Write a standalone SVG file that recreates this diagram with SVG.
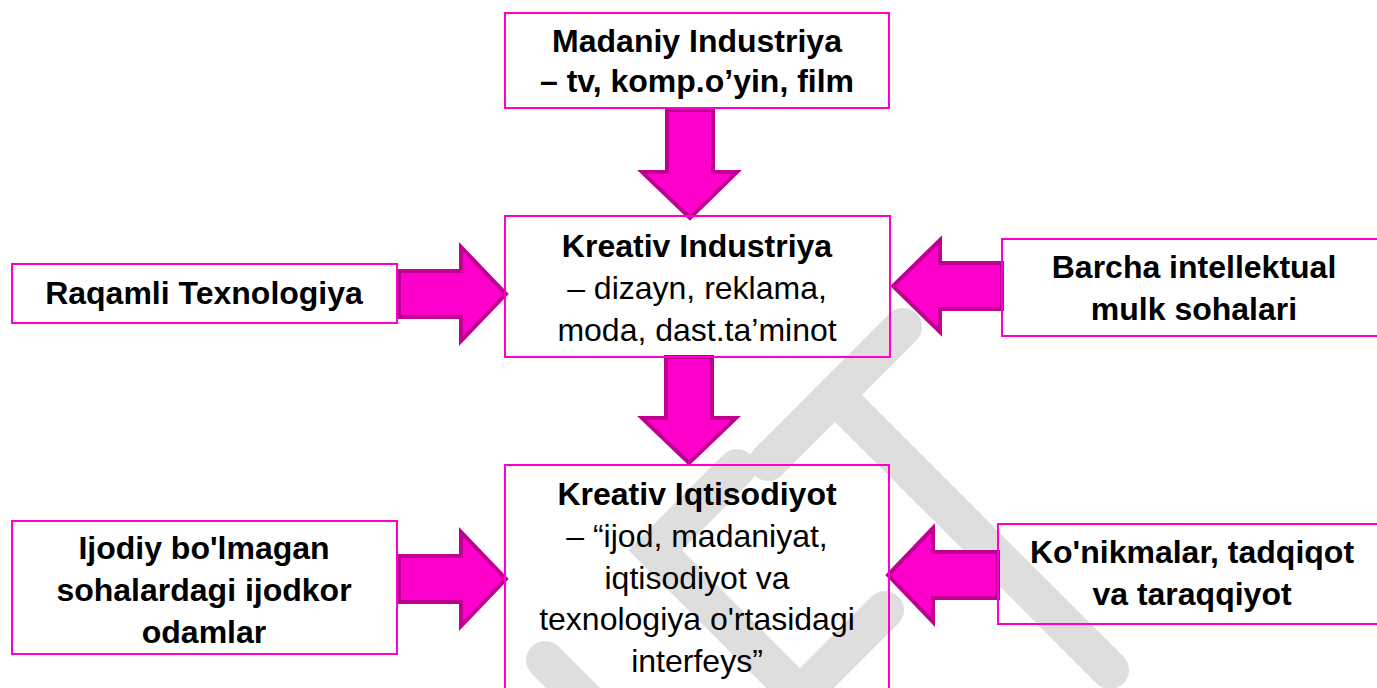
<svg xmlns="http://www.w3.org/2000/svg" width="1377" height="688" viewBox="0 0 1377 688">
<style>
.box{fill:none;stroke:#FF00CC;stroke-width:2}
.arr{fill:#FF00CC;stroke:#BF0090;stroke-width:4;stroke-linejoin:miter}
.wm{fill:none;stroke:#DEDEDE;stroke-width:38;stroke-linecap:round;stroke-linejoin:miter}
text{font-family:"Liberation Sans",Arial,sans-serif;font-size:32px;fill:#000;text-anchor:middle}
.b{font-weight:bold}
</style>
<rect width="1377" height="688" fill="#fff"/>
<g id="watermark">
<path class="wm" d="M903,327 L768,462 M835,395 L1110,670"/>
<path class="wm" d="M737,468 L655,550 L815,710 M800,695 L885,610"/>
<path class="wm" d="M545,660 L590,705"/>
</g>
<g id="connectors">
<polygon class="arr" points="667,110 713,110 713,172 737,172 690,218 642,172 667,172"/>
<polygon class="arr" points="666,357 712,357 712,418 736,418 689,463 642,418 666,418"/>
<polygon class="arr" points="399,271 461,271 461,247 506,294 461,341 461,317 399,317"/>
<polygon class="arr" points="1002,263 940,263 940,240 893,286 940,332 940,309 1002,309"/>
<polygon class="arr" points="399,556 461,556 461,532 506,579 461,626 461,602 399,602"/>
<polygon class="arr" points="998,552 933,552 933,528 888,575 933,622 933,598 998,598"/>
</g>
<g id="madaniy">
<rect class="box" x="505" y="13" width="384" height="95"/>
<text class="b" x="697" y="52">Madaniy Industriya</text>
<text class="b" x="697" y="92">– tv, komp.o’yin, film</text>
</g>
<g id="kreativ-industriya">
<rect class="box" x="505" y="216" width="385" height="141"/>
<text class="b" x="697" y="257">Kreativ Industriya</text>
<text x="697" y="299">– dizayn, reklama,</text>
<text x="697" y="341">moda, dast.ta’minot</text>
</g>
<g id="kreativ-iqtisodiyot">
<rect class="box" x="505" y="465" width="384" height="240"/>
<text class="b" x="697" y="505">Kreativ Iqtisodiyot</text>
<text x="697" y="547">– “ijod, madaniyat,</text>
<text x="697" y="589">iqtisodiyot va</text>
<text x="697" y="630">texnologiya o'rtasidagi</text>
<text x="697" y="672">interfeys”</text>
</g>
<g id="raqamli">
<rect class="box" x="12" y="264" width="385" height="59"/>
<text class="b" x="204" y="304">Raqamli Texnologiya</text>
</g>
<g id="barcha">
<rect class="box" x="1002" y="239" width="384" height="97"/>
<text class="b" x="1194" y="278">Barcha intellektual</text>
<text class="b" x="1194" y="320">mulk sohalari</text>
</g>
<g id="ijodiy">
<rect class="box" x="12" y="521" width="385" height="133"/>
<text class="b" x="204" y="559">Ijodiy bo'lmagan</text>
<text class="b" x="204" y="601">sohalardagi ijodkor</text>
<text class="b" x="204" y="643">odamlar</text>
</g>
<g id="konikmalar">
<rect class="box" x="998" y="524" width="390" height="100"/>
<text class="b" x="1192" y="563">Ko'nikmalar, tadqiqot</text>
<text class="b" x="1192" y="605">va taraqqiyot</text>
</g>
</svg>
